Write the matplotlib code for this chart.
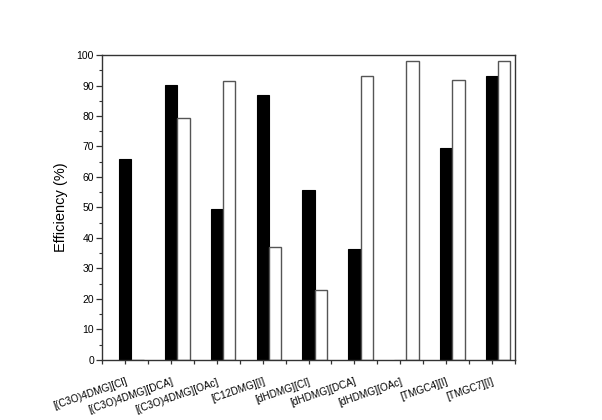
import numpy as np
import matplotlib
matplotlib.use("Agg")
import matplotlib.pyplot as plt
from matplotlib.ticker import MultipleLocator

categories = ["[(C3O)4DMG][Cl]", "[(C3O)4DMG][DCA]", "[(C3O)4DMG][OAc]",
              "[C12DMG][I]", "[dHDMG][Cl]", "[dHDMG][DCA]", "[dHDMG][OAc]",
              "[TMGC4][I]", "[TMGC7][I]"]
black_vals = [65.8, 90.2, 49.5, 86.8, 55.8, 36.5, 0, 69.6, 93.2]
white_vals = [0, 79.5, 91.4, 37.0, 22.8, 93.1, 98.1, 91.8, 98.1]

plt.rcParams['font.family'] = ['Liberation Sans', 'DejaVu Sans']

fig = plt.figure(figsize=(6.02, 4.2), dpi=100)
ax = fig.add_axes([0.170, 0.143, 0.685, 0.726])

x = np.arange(1, len(categories) + 1)
w = 0.27
ax.bar(x, black_vals, width=w, color='black', edgecolor='black', linewidth=0.8, align='center')
ax.bar(x + w, white_vals, width=w, color='white', edgecolor='#555555', linewidth=1.0, align='center')

ax.set_xlim(0.5, 9.5)
ax.set_ylim(0, 100)
ax.yaxis.set_major_locator(MultipleLocator(10))
ax.yaxis.set_minor_locator(MultipleLocator(5))
ax.set_xticks(x)
ax.set_xticks(np.arange(0.5, 10, 1.0), minor=True)
ax.set_xticklabels(categories, rotation=19, ha='right', rotation_mode='anchor', fontsize=7.2)

for s in ax.spines.values():
    s.set_color('#333333')
    s.set_linewidth(1.0)

ax.tick_params(axis='y', which='major', direction='out', length=4, width=0.9, labelsize=7.5, colors='#333333', labelcolor='black', pad=2)
ax.tick_params(axis='y', which='minor', direction='out', length=2.5, width=0.8, colors='#333333')
ax.tick_params(axis='x', which='both', direction='out', length=3, width=0.9, colors='#333333', labelcolor='black', pad=9)

ax.set_ylabel('Efficiency (%)', fontsize=10.5, labelpad=6)

fig.savefig('out.png', dpi=100)
